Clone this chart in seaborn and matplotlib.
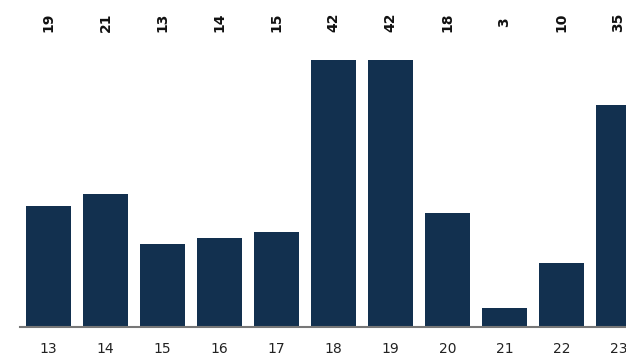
import matplotlib
matplotlib.use("Agg")
import matplotlib.pyplot as plt
import matplotlib.transforms as mtransforms
import seaborn as sns
import pandas as pd

# valores
categorias = ["13", "14", "15", "16", "17", "18", "19", "20", "21", "22", "23"]
valores = [19, 21, 13, 14, 15, 42, 42, 18, 3, 10, 35]

df = pd.DataFrame({"cat": categorias, "valor": valores})

sns.set_style("white")
fig = plt.figure(figsize=(6.26, 3.60), dpi=100)
ax = fig.add_axes([20 / 626, 33 / 360, 1 - 20 / 626, 267 / 360])

sns.barplot(data=df, x="cat", y="valor", color="#12304f", saturation=1,
            width=0.79, linewidth=0, ax=ax)

ax.set_xlim(-0.5, 10.13)
ax.set_ylim(0, 42)
ax.set_xlabel("")
ax.set_ylabel("")
ax.set_yticks([])
for lado in ["top", "right", "left"]:
    ax.spines[lado].set_visible(False)
ax.spines["bottom"].set_color("#777777")
ax.spines["bottom"].set_linewidth(1.5)
ax.tick_params(axis="x", length=0, pad=11, labelsize=10, labelcolor="#222222")

# rótulos de valor no topo, girados
trans = mtransforms.blended_transform_factory(ax.transData, fig.transFigure)
for i, v in enumerate(valores):
    ax.text(i, 1 - 22 / 360, str(v), rotation=90, ha="center", va="center",
            fontsize=10, fontweight="bold", color="#111111", transform=trans,
            clip_on=False)

fig.savefig("out.png", dpi=100)
